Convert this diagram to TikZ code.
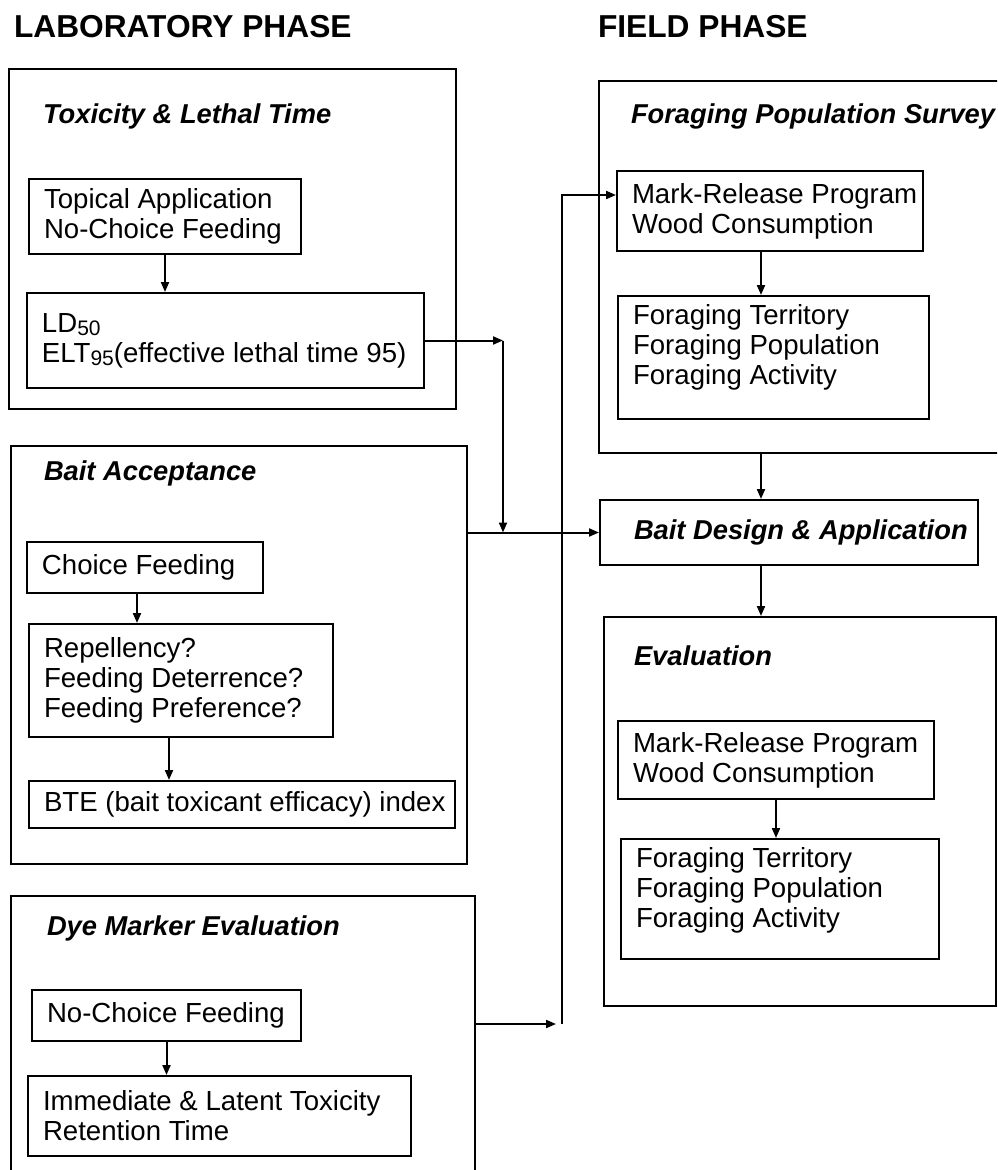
\documentclass[tikz,border=0pt]{standalone}
\usepackage{fontspec}
\setmainfont{Liberation Sans}
\usetikzlibrary{arrows.meta,calc}
\newcommand\bodyfont{\fontsize{27.6}{30}\selectfont}
\newcommand\sub[1]{\raisebox{-3pt}{\fontsize{21}{21}\selectfont #1}}
\newcommand\bt[4][c]{\parbox[c][#3][#1]{#2}{\leftskip=15pt\rightskip=0pt plus 1fil\hyphenpenalty=10000\exhyphenpenalty=10000 #4\par}}
\begin{document}
\begin{tikzpicture}[x=1pt,y=-1pt, line width=2pt,
  obox/.style={draw, anchor=north west, inner sep=0pt},
  ibox/.style={draw, anchor=north west, inner sep=0pt, font=\bodyfont},
  ttl/.style={anchor=base west, inner sep=0pt, font=\fontsize{27.3}{30}\selectfont\bfseries\itshape},
  phase/.style={anchor=base west, inner sep=0pt, font=\fontsize{31.7}{34}\selectfont\bfseries},
  arr/.style={-{Triangle[length=10pt,width=8pt]}}]
\useasboundingbox (0,0) rectangle (997,1170);
\clip (0,0) rectangle (997,1170);

\node[phase] (labp) at (13,37) {LABORATORY PHASE};
\node[phase] (fieldp) at (597,37) {FIELD PHASE};

% Toxicity & Lethal Time
\node[obox, minimum width=447pt, minimum height=340pt] (tox) at (8,68) {};
\node[ttl] (toxt) at (42,123) {Toxicity \& Lethal Time};
\node[ibox] (topical) at (28,178) {\bt{272pt}{75pt}{Topical Application\\No-Choice Feeding}};
\node[ibox] (ld) at (26,292) {\bt{397pt}{95pt}{LD\sub{50}\\ELT\sub{95}(effective lethal time 95)}};

% Bait Acceptance
\node[obox, minimum width=456pt, minimum height=418pt] (bait) at (10,445) {};
\node[ttl] (baitt) at (43,480) {Bait Acceptance};
\node[ibox] (choice) at (26,541) {\bt{236pt}{51pt}{Choice Feeding}};
\node[ibox] (rep) at (28,623) {\bt{304pt}{113pt}{Repellency?\\Feeding Deterrence?\\Feeding Preference?}};
\node[ibox] (bte) at (28,780) {\bt{426pt}{47pt}{BTE (bait toxicant efficacy) index}};

% Dye Marker Evaluation
\node[obox, minimum width=464pt, minimum height=300pt] (dye) at (10,895) {};
\node[ttl] (dyet) at (46,935) {Dye Marker Evaluation};
\node[ibox] (noch) at (31,989) {\bt{269pt}{51pt}{No-Choice Feeding}};
\node[ibox] (imm) at (27,1075) {\bt{383pt}{80pt}{Immediate \& Latent Toxicity\\Retention Time}};

% Foraging Population Survey
\node[obox, minimum width=410pt, minimum height=372pt] (forage) at (598,80) {};
\node[ttl] (foraget) at (630,123) {Foraging Population Survey};
\node[ibox] (mr1) at (616,170) {\bt{306pt}{80pt}{Mark-Release Program\\Wood Consumption}};
\node[ibox] (ft1) at (617,295) {\bt[t]{311pt}{123pt}{\vspace*{8pt}Foraging Territory\\Foraging Population\\Foraging Activity}};

% Bait Design & Application
\node[ibox] (bd) at (599,499) {\bt{378pt}{65pt}{\fontsize{27.3}{30}\selectfont\bfseries\itshape\hspace*{19pt}Bait Design \& Application}};

% Evaluation
\node[obox, minimum width=392pt, minimum height=389pt] (eval) at (603,616) {};
\node[ttl] (evalt) at (633,665) {Evaluation};
\node[ibox] (mr2) at (617,720) {\bt{316pt}{78pt}{Mark-Release Program\\Wood Consumption}};
\node[ibox] (ft2) at (620,838) {\bt[t]{318pt}{120pt}{\vspace*{8pt}Foraging Territory\\Foraging Population\\Foraging Activity}};

% connectors inside left boxes
\draw[arr] (topical.south) -- (topical.south |- ld.north);
\coordinate (a1) at ([xshift=-8pt]choice.south);
\draw[arr] (a1) -- (a1 |- rep.north);
\coordinate (a2) at ([xshift=-12pt]rep.south);
\draw[arr] (a2) -- (a2 |- bte.north);
\draw[arr] (noch.south) -- (noch.south |- imm.north);

% connectors to field phase
\coordinate (c1) at (503,338);
\draw[arr] (ld.east) -- (ld.east -| c1);
\draw[arr] (ld.east -| c1) -- (c1 |- bd.west);
\draw[arr] (bait.east |- bd.west) -- (bd.west);

\coordinate (vb) at (562,1024);
\coordinate (mr1in) at ($(mr1.north west)+(0,25)$);
\draw[arr, shorten >=6pt] (dye.east |- vb) -- (vb);
\draw[arr] (vb) -- (vb |- mr1in) -- (mr1in);

% connectors in field phase
\coordinate (cx) at (761,0);
\draw[arr] (mr1.south -| cx) -- (ft1.north -| cx);
\draw[arr] (forage.south -| cx) -- (bd.north -| cx);
\draw[arr] (bd.south -| cx) -- (eval.north -| cx);
\draw[arr] (mr2.south) -- (mr2.south |- ft2.north);
\end{tikzpicture}
\end{document}
